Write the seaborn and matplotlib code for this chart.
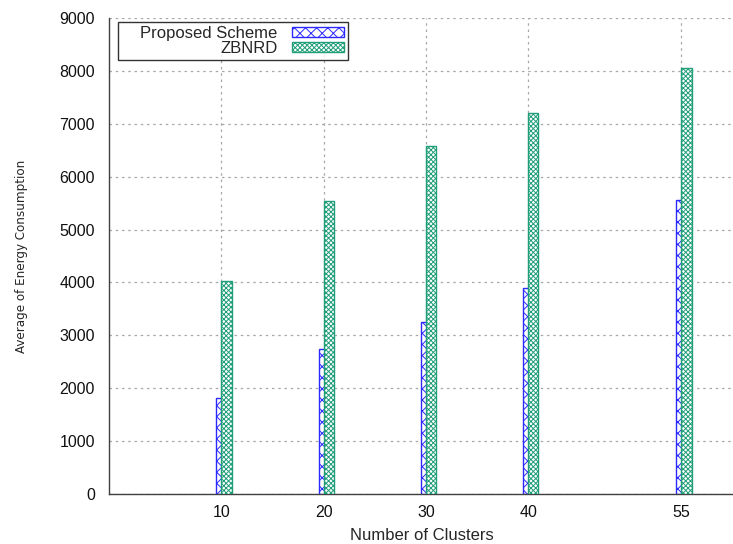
import numpy as np
import pandas as pd
import matplotlib
matplotlib.use("Agg")
import matplotlib.pyplot as plt
import seaborn as sns
from matplotlib.offsetbox import DrawingArea

# Energy consumption per number of clusters
clusters = [10, 20, 30, 40, 55]
proposed = [1810, 2740, 3250, 3900, 5550]
zbnrd = [4030, 5540, 6580, 7200, 8060]
yticks = [0, 1000, 2000, 3000, 4000, 5000, 6000, 7000, 8000, 9000]

sns.set_style("white")
plt.rcParams["font.family"] = ["Liberation Sans", "DejaVu Sans"]
plt.rcParams["hatch.linewidth"] = 0.7

BLUE = "#2a2aff"
GREEN = "#1f9e78"
GRID = "#a8a8a8"
SPINE = "#404040"

fig = plt.figure(figsize=(7.33, 5.44), dpi=100)
ax = fig.add_axes([0.1487, 0.0919, 0.8786, 0.875])

df_p = pd.DataFrame({"clusters": clusters, "energy": proposed})
df_z = pd.DataFrame({"clusters": np.array(clusters) + 0.5, "energy": zbnrd})

# Proposed scheme bars sit just left of each tick, ZBNRD bars start at the tick
sns.barplot(data=df_p, x="clusters", y="energy", native_scale=True, width=0.1,
            color="white", edgecolor=BLUE, linewidth=1.0, hatch="xxx",
            errorbar=None, ax=ax, label="Proposed Scheme", zorder=2)
sns.barplot(data=df_z, x="clusters", y="energy", native_scale=True, width=0.1,
            color="white", edgecolor=GREEN, linewidth=1.0, hatch="xxxxxxx",
            errorbar=None, ax=ax, label="ZBNRD", zorder=3)

ax.set_xlim(-1, 62)
ax.set_ylim(0, 9000)
ax.set_xticks(clusters)
ax.set_xticklabels([str(c) for c in clusters])
ax.set_yticks(yticks)
ax.set_yticklabels([str(t) for t in yticks])

ax.grid(True, color=GRID, linestyle=(0, (2, 3)), linewidth=0.9)
ax.set_axisbelow(True)

for side in ["top", "right"]:
    ax.spines[side].set_visible(False)
for side in ["left", "bottom"]:
    ax.spines[side].set_color(SPINE)
    ax.spines[side].set_linewidth(1.0)

ax.tick_params(axis="both", direction="in", length=5, width=0.8, color=SPINE,
               labelsize=11.5, labelcolor="#111111", pad=10)
ax.tick_params(axis="x", pad=8)

ax.set_xlabel("Number of Clusters", fontsize=12)
ax.xaxis.set_label_coords(0.486, -0.072)
ax.set_ylabel("Average of Energy Consumption", fontsize=9.5,
              family="DejaVu Sans", fontstretch="condensed")
ax.yaxis.set_label_coords(-0.126, 0.5)

leg = ax.legend(loc="upper left", bbox_to_anchor=(0.014, 0.992), markerfirst=False,
                frameon=True, fancybox=False, edgecolor="black", fontsize=12,
                handlelength=3.1, handleheight=0.5, handletextpad=0.9,
                borderpad=0.25, labelspacing=0.0, columnspacing=0.0,
                borderaxespad=0)
leg.get_frame().set_linewidth(1.0)
# right-align the legend entries so the labels end next to their swatches,
# with some extra room on the left side of the box
entries = leg._legend_box.get_children()[1]
for col in entries.get_children():
    col.align = "right"
entries._children.insert(0, DrawingArea(13, 1))

fig.savefig("out.png", dpi=100)
